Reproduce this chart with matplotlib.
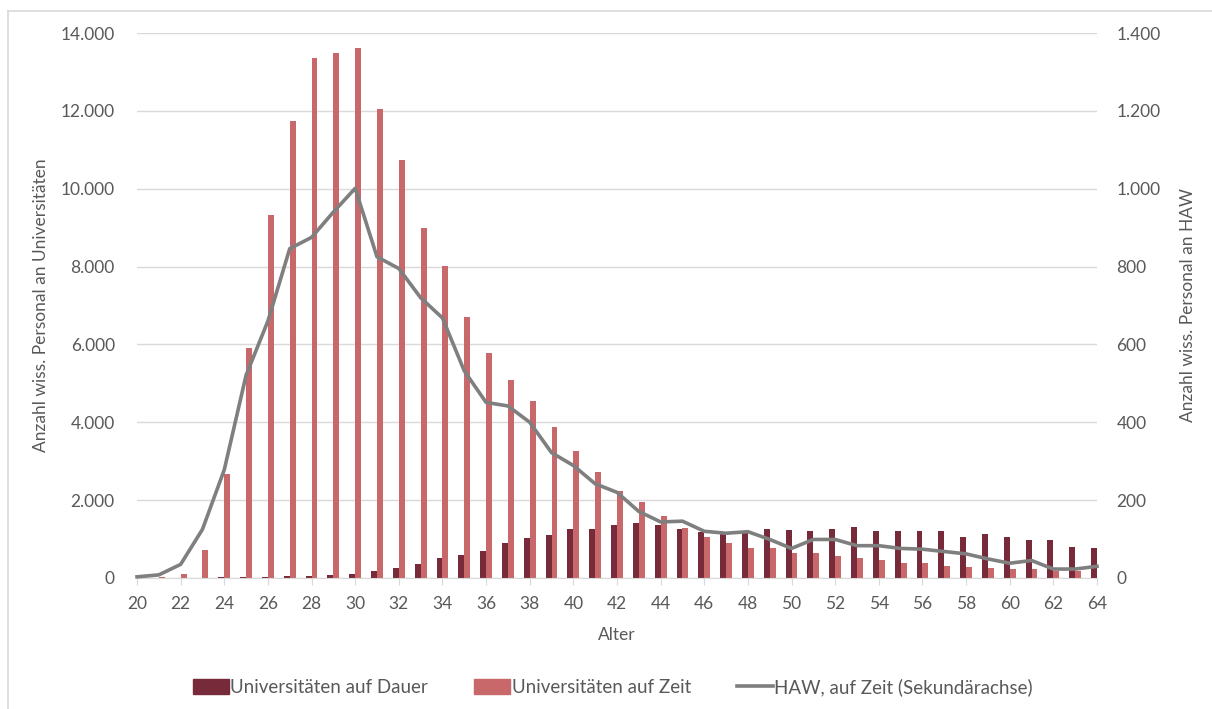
import matplotlib
matplotlib.use("Agg")
from matplotlib import pyplot as plt
from matplotlib.lines import Line2D
import numpy as np

plt.rcParams['font.family'] = ['Lato', 'DejaVu Sans']

alter = list(range(20, 65))
uni_dauer = [0, 0, 0, 0, 15, 20, 20, 40, 40, 75,
             100, 170, 260, 350, 505, 590, 700, 910, 1020, 1110,
             1270, 1250, 1360, 1410, 1360, 1250, 1175, 1130, 1160, 1250,
             1225, 1210, 1250, 1310, 1210, 1210, 1210, 1210, 1050, 1130,
             1050, 980, 980, 800, 775]
uni_zeit = [0, 30, 90, 710, 2670, 5900, 9330, 11740, 13370, 13480,
            13610, 12050, 10730, 9000, 8010, 6700, 5790, 5090, 4540, 3870,
            3275, 2715, 2245, 1960, 1580, 1295, 1045, 890, 780, 780,
            645, 645, 575, 515, 470, 380, 380, 310, 290, 265,
            225, 225, 170, 170, 130]
haw_zeit = [3, 8, 35, 125, 278, 521, 660, 846, 875, 940,
            1001, 825, 795, 720, 668, 532, 451, 442, 400, 322,
            289, 242, 220, 171, 144, 146, 120, 115, 119, 99,
            76, 99, 99, 83, 83, 76, 74, 68, 62, 49,
            38, 45, 23, 23, 30]

c_dauer = '#772B3A'
c_zeit = '#C8686A'
c_line = '#7F7F7F'
c_text = '#595959'

fig = plt.figure(figsize=(12.12, 7.09), dpi=100)
ax = fig.add_axes([137/1212, 1 - 578/709, (1097-137)/1212, (578-33)/709])
ax2 = ax.twinx()

x = np.array(alter)
w = 0.27
ax.bar(x - w/2, uni_dauer, w, color=c_dauer, label='Universitäten auf Dauer', zorder=2)
ax.bar(x + w/2, uni_zeit, w, color=c_zeit, label='Universitäten auf Zeit', zorder=2)
ax2.plot(x, haw_zeit, color=c_line, lw=2.6, label='HAW, auf Zeit (Sekundärachse)',
         solid_joinstyle='round', clip_on=False)

ax.set_xlim(20, 64)
ax.set_ylim(0, 14000)
ax2.set_ylim(0, 1400)
ax.set_yticks(range(0, 14001, 2000))
ax2.set_yticks(range(0, 1401, 200))
fmt = lambda v: f"{int(v):,}".replace(",", ".")
ax.set_yticklabels([fmt(v) for v in range(0, 14001, 2000)])
ax2.set_yticklabels([fmt(v) for v in range(0, 1401, 200)])
ax.set_xticks(range(20, 65, 2))

ax.grid(axis='y', color='#D9D9D9', lw=1, zorder=0)
ax.set_axisbelow(True)
for a in (ax, ax2):
    for s in ('top', 'right', 'left'):
        a.spines[s].set_visible(False)
    a.spines['bottom'].set_color('#D9D9D9')
    a.tick_params(colors=c_text, labelsize=12.5)
ax.tick_params(axis='y', length=0, pad=16)
ax2.tick_params(axis='y', length=0, pad=14)
ax.tick_params(axis='x', length=5, color='#D9D9D9', pad=8)
ax2.spines['bottom'].set_visible(False)

ax.set_xlabel('Alter', fontsize=12.5, color=c_text, labelpad=11)
ax.set_ylabel('Anzahl wiss. Personal an Universitäten', fontsize=12.5, color=c_text, labelpad=8)
ax2.set_ylabel('Anzahl wiss. Personal an HAW', fontsize=12.5, color=c_text, labelpad=14)

handles = [plt.Rectangle((0, 0), 1, 1, color=c_dauer),
           plt.Rectangle((0, 0), 1, 1, color=c_zeit),
           Line2D([0], [0], color=c_line, lw=2.6)]
labels = ['Universitäten auf Dauer', 'Universitäten auf Zeit', 'HAW, auf Zeit (Sekundärachse)']
fig.legend(handles, labels, loc='center', bbox_to_anchor=(613/1212, 1 - 687/709), ncol=3,
           frameon=False, fontsize=13.5, labelcolor=c_text, handlelength=1.9, handleheight=0.8,
           handletextpad=0.1, columnspacing=2.45)

fig.add_artist(Line2D([7.5/1212, 7.5/1212], [0, 1 - 11/709], color='#D9D9D9', lw=1.2))
fig.add_artist(Line2D([7.5/1212, 1], [1 - 11/709, 1 - 11/709], color='#D9D9D9', lw=1.2))

fig.savefig('out.png', dpi=100)
